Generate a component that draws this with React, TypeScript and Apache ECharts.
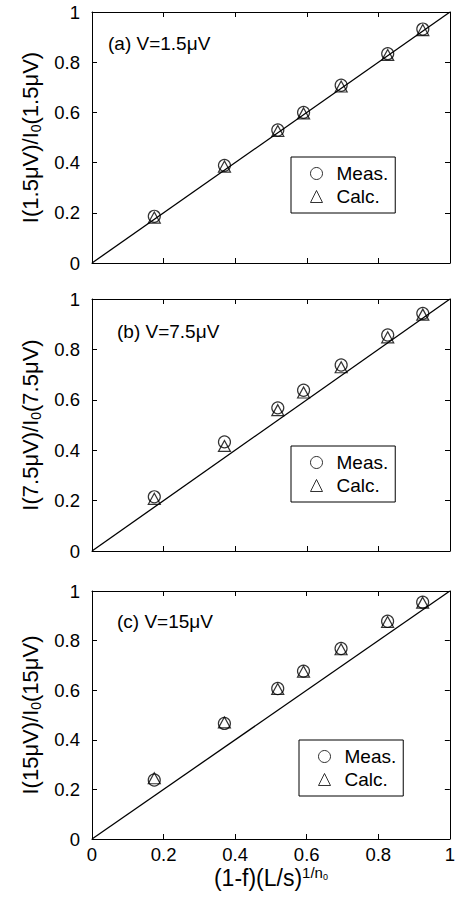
import { useEffect, useRef } from 'react';
import * as echarts from 'echarts';

const xValues = [0.174, 0.370, 0.519, 0.591, 0.696, 0.826, 0.924];
const measA = [0.186, 0.389, 0.530, 0.600, 0.708, 0.834, 0.932];
const calcA = [0.181, 0.384, 0.526, 0.596, 0.703, 0.829, 0.928];
const measB = [0.215, 0.433, 0.568, 0.638, 0.738, 0.857, 0.943];
const calcB = [0.207, 0.417, 0.559, 0.629, 0.729, 0.848, 0.938];
const measC = [0.238, 0.466, 0.607, 0.677, 0.768, 0.878, 0.955];
const calcC = [0.245, 0.470, 0.605, 0.675, 0.765, 0.875, 0.953];
const diagonalX = [0, 1];
const diagonalY = [0, 1];
const panelLabels = ['(a) V=1.5μV', '(b) V=7.5μV', '(c) V=15μV'];
const voltages = ['1.5μV', '7.5μV', '15μV'];
const legendNames = ['Meas.', 'Calc.'];
const xAxisTitle = ['(1-f)(L/s)', '1/n', '0'];

const FONT = "'Liberation Sans', Arial, Helvetica, sans-serif";

const grids = [
  { left: 92, top: 12, width: 358, height: 251 },
  { left: 92, top: 299, width: 358, height: 252 },
  { left: 92, top: 591, width: 358, height: 248 },
];
const legendPos = [
  { left: 291, top: 157 },
  { left: 291, top: 446 },
  { left: 299, top: 740 },
];
const labelPos = [
  { x: 108, y: 44 },
  { x: 117, y: 332 },
  { x: 117, y: 622 },
];

export default function App() {
  const ref = useRef<HTMLDivElement>(null);
  useEffect(() => {
    if (!ref.current) return;
    const chart = echarts.init(ref.current, undefined, { renderer: 'svg' });
    const meas = [measA, measB, measC];
    const calc = [calcA, calcB, calcC];

    const xAxes: any[] = [];
    const yAxes: any[] = [];
    const series: any[] = [];
    const tickCommon = { show: true, inside: true, length: 5, lineStyle: { color: '#000', width: 1 } };
    const lineCommon = { show: true, onZero: false, lineStyle: { color: '#000', width: 1 } };

    grids.forEach((_, i) => {
      const last = i === grids.length - 1;
      xAxes.push({
        type: 'value', gridIndex: i, min: 0, max: 1, interval: 0.2, position: 'bottom',
        axisLine: lineCommon, axisTick: tickCommon, splitLine: { show: false },
        axisLabel: { show: last, color: '#000', fontSize: 18.5, fontFamily: FONT, margin: 6 },
        name: last ? `{m|${xAxisTitle[0]}}{p|${xAxisTitle[1]}}{q|${xAxisTitle[2]}}` : '',
        nameLocation: 'middle', nameGap: 22,
        nameTextStyle: {
          color: '#000', fontFamily: FONT,
          rich: {
            m: { fontSize: 23, lineHeight: 26, fontFamily: FONT, color: '#000' },
            p: { fontSize: 15, lineHeight: 15, verticalAlign: 'top', fontFamily: FONT, color: '#000' },
            q: { fontSize: 9, lineHeight: 9, verticalAlign: 'top', padding: [8, 0, 0, 0], fontFamily: FONT, color: '#000' },
          },
        },
      });
      xAxes.push({
        type: 'value', gridIndex: i, min: 0, max: 1, interval: 0.2, position: 'top',
        axisLine: lineCommon, axisTick: tickCommon, splitLine: { show: false },
        axisLabel: { show: false },
      });
      const v = voltages[i];
      yAxes.push({
        type: 'value', gridIndex: i, min: 0, max: 1, interval: 0.2, position: 'left',
        axisLine: lineCommon, axisTick: tickCommon, splitLine: { show: false },
        axisLabel: { color: '#000', fontSize: 18.5, fontFamily: FONT, margin: 12 },
        name: `{m|I(${v})/I}{s|0}{m|(${v})}`,
        nameLocation: 'middle', nameRotate: 90, nameGap: 47,
        nameTextStyle: {
          color: '#000', fontFamily: FONT,
          rich: {
            m: { fontSize: 22, lineHeight: 26, fontFamily: FONT, color: '#000' },
            s: { fontSize: 14, lineHeight: 14, verticalAlign: 'bottom', fontFamily: FONT, color: '#000' },
          },
        },
      });
      yAxes.push({
        type: 'value', gridIndex: i, min: 0, max: 1, interval: 0.2, position: 'right',
        axisLine: lineCommon, axisTick: tickCommon, splitLine: { show: false },
        axisLabel: { show: false },
      });

      series.push({
        type: 'line', xAxisIndex: 2 * i, yAxisIndex: 2 * i,
        data: diagonalX.map((x, k) => [x, diagonalY[k]]),
        showSymbol: false, symbol: 'none', silent: true, z: 1,
        lineStyle: { color: '#000', width: 1.3 },
      });
      series.push({
        name: legendNames[0], type: 'scatter', xAxisIndex: 2 * i, yAxisIndex: 2 * i,
        data: xValues.map((x, k) => [x, meas[i][k]]),
        symbol: 'circle', symbolSize: 12, z: 3,
        itemStyle: { color: 'rgba(0,0,0,0)', borderColor: '#000', borderWidth: 1.2 },
      });
      series.push({
        name: legendNames[1], type: 'scatter', xAxisIndex: 2 * i, yAxisIndex: 2 * i,
        data: xValues.map((x, k) => [x, calc[i][k]]),
        symbol: 'triangle', symbolSize: [12, 11], z: 4,
        itemStyle: { color: 'rgba(0,0,0,0)', borderColor: '#000', borderWidth: 1.2 },
      });
    });

    const legends = legendPos.map((p) => ({
      data: [
        { name: legendNames[0], icon: 'circle' },
        { name: legendNames[1], icon: 'triangle' },
      ],
      orient: 'vertical', left: p.left, top: p.top,
      padding: [7, 7, 7, 19], itemGap: 4, itemWidth: 12, itemHeight: 12,
      borderColor: '#000', borderWidth: 1, borderRadius: 0, backgroundColor: '#fff',
      selectedMode: false,
      itemStyle: { color: 'rgba(0,0,0,0)', borderColor: '#000', borderWidth: 1 },
      textStyle: { fontSize: 19, color: '#000', fontFamily: FONT, padding: [0, 0, 0, 9] },
    }));

    const graphics = labelPos.map((p, i) => ({
      type: 'text', left: p.x, top: p.y - 10,
      style: { text: panelLabels[i], fill: '#000', fontSize: 19, fontFamily: FONT },
    }));

    chart.setOption({
      animation: false,
      backgroundColor: '#fff',
      grid: grids,
      xAxis: xAxes,
      yAxis: yAxes,
      series,
      legend: legends,
      graphic: graphics,
    });
    return () => chart.dispose();
  }, []);
  return (
    <div
      ref={ref}
      style={{ position: 'absolute', left: 0, top: 0, width: 458, height: 901 }}
    />
  );
}
